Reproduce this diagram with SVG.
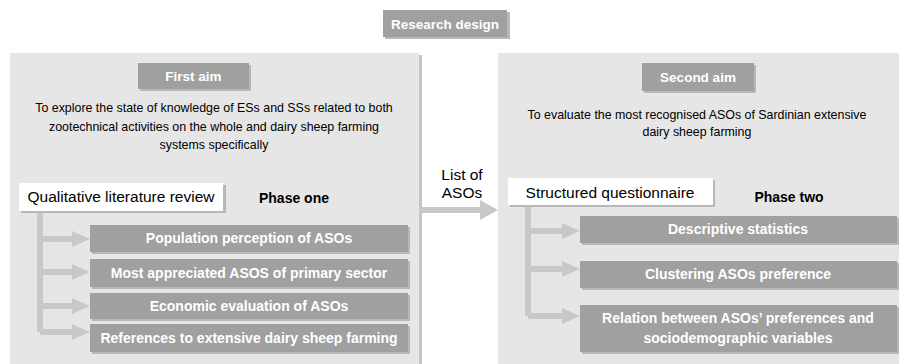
<svg xmlns="http://www.w3.org/2000/svg" width="899" height="364" viewBox="0 0 899 364">
<defs>
<style>
.panel{fill:#e6e6e6}
.hdr{fill:#a0a0a0}
.box{fill:#a0a0a0}
.wbox{fill:#ffffff}
.sh{fill:#b8b8b8}
.t{font-family:"Liberation Sans",Arial,sans-serif;text-anchor:middle}
.bw{font-weight:bold;fill:#ffffff;font-size:14px}
.bt{font-weight:bold;fill:#ffffff;font-size:13.5px}
.desc{font-size:12.4px;fill:#000}
.lab{font-size:15.5px;fill:#000}
.ph{font-weight:bold;font-size:14px;fill:#000}
.br{fill:none;stroke:#c8c8c8;stroke-width:6}
.ah{fill:#c8c8c8}
</style>
</defs>
<rect x="0" y="0" width="899" height="364" fill="#ffffff"/>
<g id="title">
<rect x="385" y="12" width="125" height="27" class="sh"/>
<rect x="383" y="10" width="124" height="27" class="hdr"/>
<text x="445" y="29" class="t bt">Research design</text>
</g>
<g id="panel-left">
<rect x="12" y="55" width="410" height="309" fill="#c4c4c4"/>
<rect x="10" y="53" width="409" height="311" class="panel"/>
</g>
<g id="panel-right">
<rect x="498" y="53" width="401" height="311" class="panel"/>
</g>
<g id="first-aim">
<rect x="140" y="65" width="111" height="26" class="sh"/>
<rect x="138" y="63" width="111" height="26" class="hdr"/>
<text x="193.5" y="81" class="t bt">First aim</text>
<text class="t desc"><tspan x="214" y="112">To explore the state of knowledge of ESs and SSs related to both</tspan><tspan x="214" y="131">zootechnical activities on the whole and dairy sheep farming</tspan><tspan x="214" y="149">systems specifically</tspan></text>
</g>
<g id="second-aim">
<rect x="644" y="65" width="112" height="28" class="sh"/>
<rect x="642" y="63" width="112" height="28" class="hdr"/>
<text x="698" y="82" class="t bt">Second aim</text>
<text class="t desc"><tspan x="697" y="119">To evaluate the most recognised ASOs of Sardinian extensive</tspan><tspan x="697" y="136">dairy sheep farming</tspan></text>
</g>
<g id="connectors">
<path class="br" d="M40 211 V332 M40 239 H74 M40 272 H74 M40 306 H74 M40 332 H74"/>
<polygon class="ah" points="72,231 90,239 72,247"/>
<polygon class="ah" points="72,264 90,272 72,280"/>
<polygon class="ah" points="72,298 90,306 72,314"/>
<polygon class="ah" points="72,324 90,332 72,340"/>
<path class="br" d="M528 205 V316 M528 231 H564 M528 269 H564 M528 316 H564"/>
<polygon class="ah" points="562,223 580,231 562,239"/>
<polygon class="ah" points="562,261 580,269 562,277"/>
<polygon class="ah" points="562,308 580,316 562,324"/>
<path class="br" d="M419 210 H482"/>
<polygon class="ah" points="480,200 498,210 480,220"/>
<text class="t lab"><tspan x="462" y="180">List of</tspan><tspan x="462" y="198">ASOs</tspan></text>
</g>
<g id="qual-review">
<rect x="21" y="185" width="205" height="28" class="sh"/>
<rect x="19" y="183" width="204" height="28" class="wbox"/>
<text x="121" y="202" class="t lab">Qualitative literature review</text>
<text x="294" y="203" class="t ph">Phase one</text>
</g>
<g id="structured-q">
<rect x="510" y="180" width="205" height="27" class="sh"/>
<rect x="508" y="178" width="205" height="27" class="wbox"/>
<text x="610" y="198" class="t lab">Structured questionnaire</text>
<text x="789" y="202" class="t ph">Phase two</text>
</g>
<g id="l1"><rect x="92" y="227" width="318" height="27" class="sh"/><rect x="90" y="225" width="318" height="27" class="box"/><text x="249" y="243" class="t bw">Population perception of ASOs</text></g>
<g id="l2"><rect x="92" y="261" width="318" height="28" class="sh"/><rect x="90" y="259" width="318" height="28" class="box"/><text x="249" y="278" class="t bw">Most appreciated ASOS of primary sector</text></g>
<g id="l3"><rect x="92" y="295" width="318" height="26" class="sh"/><rect x="90" y="293" width="318" height="26" class="box"/><text x="249" y="311" class="t bw">Economic evaluation of ASOs</text></g>
<g id="l4"><rect x="92" y="326" width="318" height="28" class="sh"/><rect x="90" y="324" width="318" height="28" class="box"/><text x="249" y="343" class="t bw">References to extensive dairy sheep farming</text></g>
<g id="r1"><rect x="582" y="218" width="317" height="27" class="sh"/><rect x="580" y="216" width="317" height="27" class="box"/><text x="738" y="234" class="t bw">Descriptive statistics</text></g>
<g id="r2"><rect x="582" y="263" width="317" height="27" class="sh"/><rect x="580" y="261" width="317" height="27" class="box"/><text x="738" y="279" class="t bw">Clustering ASOs preference</text></g>
<g id="r3"><rect x="582" y="307" width="317" height="47" class="sh"/><rect x="580" y="305" width="317" height="47" class="box"/><text class="t bw"><tspan x="738" y="323">Relation between ASOs’ preferences and</tspan><tspan x="738" y="343">sociodemographic variables</tspan></text></g>
</svg>
